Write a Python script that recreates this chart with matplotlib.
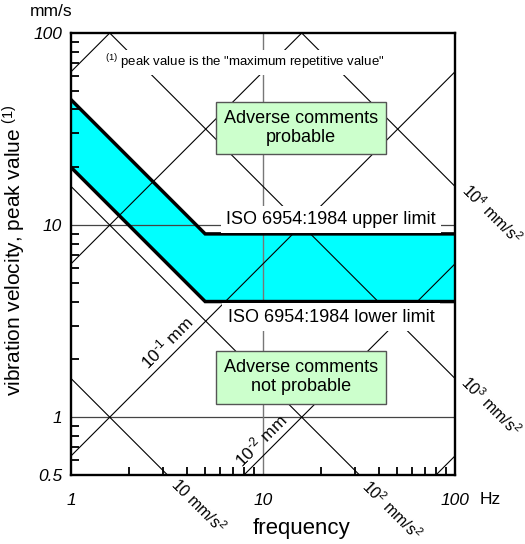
import numpy as np
import matplotlib
matplotlib.use("Agg")
import matplotlib.pyplot as plt
from matplotlib.ticker import FixedLocator, NullFormatter

plt.rcParams['font.family'] = ['Liberation Sans', 'DejaVu Sans']
plt.rcParams['mathtext.fontset'] = 'custom'
plt.rcParams['mathtext.rm'] = 'Liberation Sans'
plt.rcParams['mathtext.it'] = 'Liberation Sans:italic'
plt.rcParams['mathtext.bf'] = 'Liberation Sans:bold'

# ISO 6954:1984 band
band_f = [1, 5, 100]
band_upper = [45, 9, 9]
band_lower = [20, 4, 4]

# constant displacement (mm) and constant acceleration (mm/s2) lines
disp_mm = [1e-3, 1e-2, 1e-1, 1, 10]
acc_mms2 = [10, 100, 1000, 1e4]
line_f = np.array([0.5, 300])

# labels on the diagonal lines
disp_lab = [0.1, 0.01]
disp_lab_txt = ['10$^{\u2010 1}$ mm', '10$^{\u2010 2}$ mm']
disp_lab_f = [3.5, 10.8]
acc_lab = [10, 100, 1000, 1e4]
acc_lab_txt = ['10 mm/s$^{2}$', '10$^{2}$ mm/s$^{2}$', '10$^{3}$ mm/s$^{2}$', '10$^{4}$ mm/s$^{2}$']
acc_lab_f = [4.59, 47.5, 147, 147]
acc_lab_off = [(0, 0), (-1, -1), (3, 3), (3.5, 3.5)]

yticks = [0.5, 1, 10, 100]
ytick_lbl = ['0.5', '1', '10', '100']
xticks = [1, 10, 100]
xtick_lbl = ['1', '10', '100']

fig = plt.figure(figsize=(5.25, 5.44), dpi=100)
ax = fig.add_axes([0.1352, 0.1268, 0.7314, 0.8125])
ax.set_xscale('log')
ax.set_yscale('log')
ax.set_xlim(1, 100)
ax.set_ylim(0.5, 100)

# band
ax.fill_between(band_f, band_lower, band_upper, color='#00ffff', lw=0, zorder=1)
ax.plot(band_f, band_upper, color='black', lw=2.5, zorder=4, solid_joinstyle='miter')
ax.plot(band_f, band_lower, color='black', lw=2.5, zorder=4, solid_joinstyle='miter')

# grid lines
ax.axhline(10, color='#444444', lw=0.9, zorder=2)
ax.axhline(1, color='#444444', lw=0.9, zorder=2)
ax.axvline(10, color='#777777', lw=1.0, zorder=2)

# diagonal lines
for d in disp_mm:
    ax.plot(line_f, 2 * np.pi * line_f * d, color='black', lw=0.8, zorder=2)
for a in acc_mms2:
    ax.plot(line_f, a / (2 * np.pi * line_f), color='black', lw=0.8, zorder=2)

for d, t, f in zip(disp_lab, disp_lab_txt, disp_lab_f):
    ax.annotate(t, xy=(f, 2 * np.pi * f * d), xytext=(-6.5, 6.5), textcoords='offset points',
                rotation=45, ha='center', va='center', rotation_mode='anchor', fontsize=12.5)
for a, t, f, off in zip(acc_lab, acc_lab_txt, acc_lab_f, acc_lab_off):
    ax.annotate(t, xy=(f, a / (2 * np.pi * f)), xytext=off, textcoords='offset points',
                rotation=-45, ha='center', va='center', rotation_mode='anchor', fontsize=11.5,
                annotation_clip=False)

# text on the chart
ax.text(22.6, 10.7, 'ISO 6954:1984 upper limit', ha='center', va='center', fontsize=13, zorder=5,
        bbox=dict(facecolor='white', edgecolor='none', boxstyle='square,pad=0.3'))
ax.text(22.6, 3.32, 'ISO 6954:1984 lower limit', ha='center', va='center', fontsize=13, zorder=5,
        bbox=dict(facecolor='white', edgecolor='none', boxstyle='square,pad=0.3'))
ax.text(15.8, 32, 'Adverse comments\nprobable', ha='center', va='center', fontsize=13, zorder=6,
        linespacing=1.15,
        bbox=dict(facecolor='#ccffcc', edgecolor='#555555', lw=1, boxstyle='square,pad=0.45'))
ax.text(15.8, 1.61, 'Adverse comments\nnot probable', ha='center', va='center', fontsize=13, zorder=6,
        linespacing=1.15,
        bbox=dict(facecolor='#ccffcc', edgecolor='#555555', lw=1, boxstyle='square,pad=0.45'))
ax.text(8.06, 70.6, '$^{(1)}$ peak value is the "maximum repetitive value"', ha='center', va='center',
        fontsize=9.5, zorder=5,
        bbox=dict(facecolor='white', edgecolor='none', boxstyle='square,pad=0.2'))

# axes
for s in ax.spines.values():
    s.set_linewidth(1.7)
    s.set_zorder(7)
ax.yaxis.set_major_locator(FixedLocator(yticks))
ax.set_yticklabels(ytick_lbl, style='italic', fontsize=12.5)
ax.xaxis.set_major_locator(FixedLocator(xticks))
ax.set_xticklabels(xtick_lbl, style='italic', fontsize=12.5)
ymin = [v * m for m in [1, 10] for v in range(2, 10)] + [0.6, 0.7, 0.8, 0.9]
xmin = [v * m for m in [1, 10] for v in range(2, 10)]
ax.yaxis.set_minor_locator(FixedLocator(ymin))
ax.xaxis.set_minor_locator(FixedLocator(xmin))
ax.yaxis.set_minor_formatter(NullFormatter())
ax.xaxis.set_minor_formatter(NullFormatter())
ax.tick_params(which='major', length=0)
ax.tick_params(axis='x', which='major', pad=13)
ax.tick_params(axis='y', which='major', pad=6.5)
ax.tick_params(which='minor', direction='in', length=5.5, width=1.3, color='black')
ax.tick_params(top=False, right=False, which='both')

ax.set_xlabel('frequency', fontsize=16)
ax.xaxis.set_label_coords(0.60, -0.098)
ax.set_ylabel('vibration velocity, peak value $^{(1)}$', fontsize=15)
ax.yaxis.set_label_coords(-0.112, 0.51)

fig.text(51 / 525, 1 - 12 / 544, 'mm/s', ha='center', va='center', fontsize=12.5)
fig.text(490 / 525, 1 - 500 / 544, 'Hz', ha='center', va='center', fontsize=12.5)

fig.savefig('out.png', dpi=100)
